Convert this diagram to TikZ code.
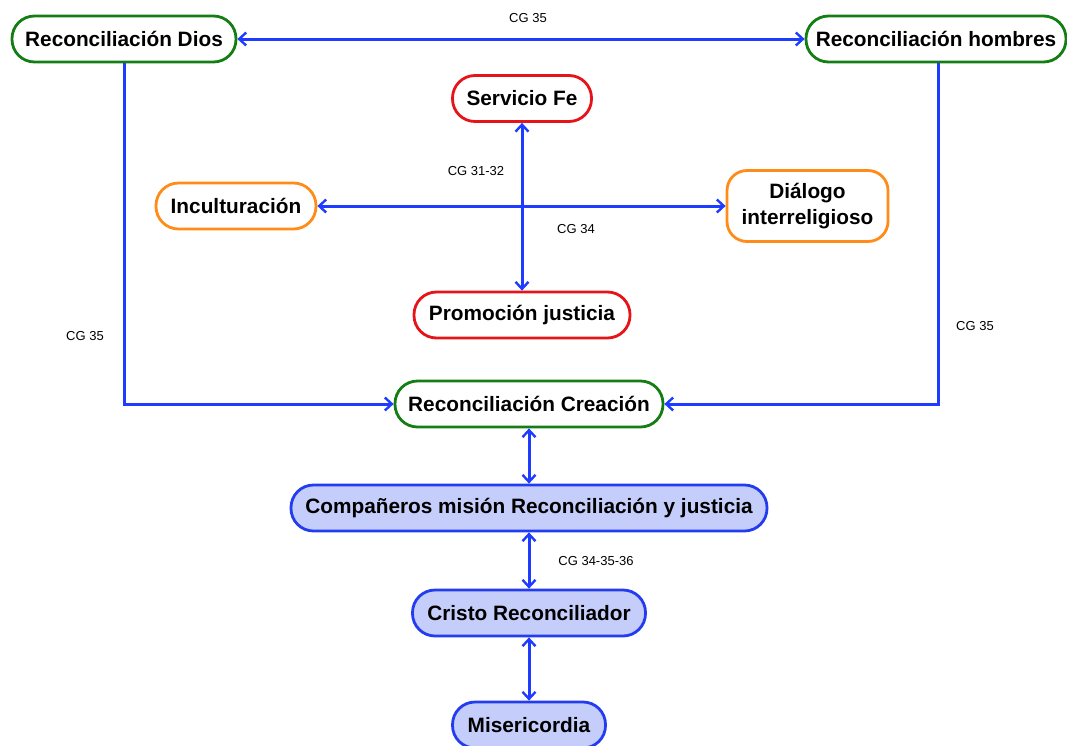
\documentclass[tikz,border=0pt]{standalone}
\usepackage{fontspec}
\setmainfont{Liberation Sans}
\usetikzlibrary{arrows.meta}
\definecolor{gborder}{RGB}{20,125,20}
\definecolor{rborder}{RGB}{230,20,25}
\definecolor{oborder}{RGB}{255,140,25}
\definecolor{bline}{RGB}{30,60,255}
\definecolor{bfill}{RGB}{197,205,250}
\definecolor{bborder}{RGB}{35,60,240}
\tikzset{
  box/.style={draw, line width=2.8pt, fill=white, rounded corners=22.5pt, minimum height=46pt,
    inner sep=0pt, font=\bfseries\fontsize{20.8}{26}\selectfont, text=black},
  greenbox/.style={box, draw=gborder},
  redbox/.style={box, draw=rborder},
  orangebox/.style={box, draw=oborder},
  bluebox/.style={box, draw=bborder, fill=bfill},
  conn/.style={draw=bline, line width=3pt, >={Straight Barb[length=7pt,width=13pt,line width=2.4pt]}},
  lbl/.style={font=\fontsize{13}{15}\selectfont, text=black, inner sep=0pt}
}
\begin{document}
\begin{tikzpicture}[x=1pt,y=-1pt]
\useasboundingbox (0,0) rectangle (1067,745);
\node[greenbox, minimum width=224pt] (dios) at (124,39) {Reconciliación Dios};
\node[greenbox, minimum width=260pt] (hombres) at (936,39) {Reconciliación hombres};
\node[redbox, minimum width=139pt] (fe) at (522,98.5) {Servicio Fe};
\node[orangebox, minimum width=160pt] (incult) at (236,206) {Inculturación};
\node[orangebox, minimum width=161pt, minimum height=71pt, rounded corners=20pt, align=center] (dialogo) at (807.5,206) {Diálogo\\interreligioso};
\node[redbox, minimum width=216pt] (promo) at (522,315) {Promoción justicia};
\node[greenbox, minimum width=268pt] (creacion) at (529,404) {Reconciliación Creación};
\node[bluebox, minimum width=476pt] (comp) at (529,508) {Compañeros misión Reconciliación y justicia};
\node[bluebox, minimum width=233pt] (cristo) at (529,613) {Cristo Reconciliador};
\node[bluebox, minimum width=153pt] (miseri) at (529,725) {Misericordia};

\node[lbl] (l1) at (528,18) {CG 35};
\node[lbl] (l2) at (476,171) {CG 31-32};
\node[lbl] (l3) at (576,229) {CG 34};
\node[lbl] (l4) at (85,336) {CG 35};
\node[lbl] (l5) at (975,326) {CG 35};
\node[lbl] (l6) at (596,561) {CG 34-35-36};

\draw[conn, <->] (dios) -- (hombres);
\draw[conn, <->] (fe) -- (promo);
\draw[conn, <->] (incult) -- (dialogo);
\draw[conn, ->] (dios.south) |- (creacion.west);
\draw[conn, ->] ([xshift=2pt]hombres.south) |- (creacion.east);
\draw[conn, <->] (creacion) -- (comp);
\draw[conn, <->] (comp) -- (cristo);
\draw[conn, <->] (cristo) -- (miseri);
\end{tikzpicture}
\end{document}
